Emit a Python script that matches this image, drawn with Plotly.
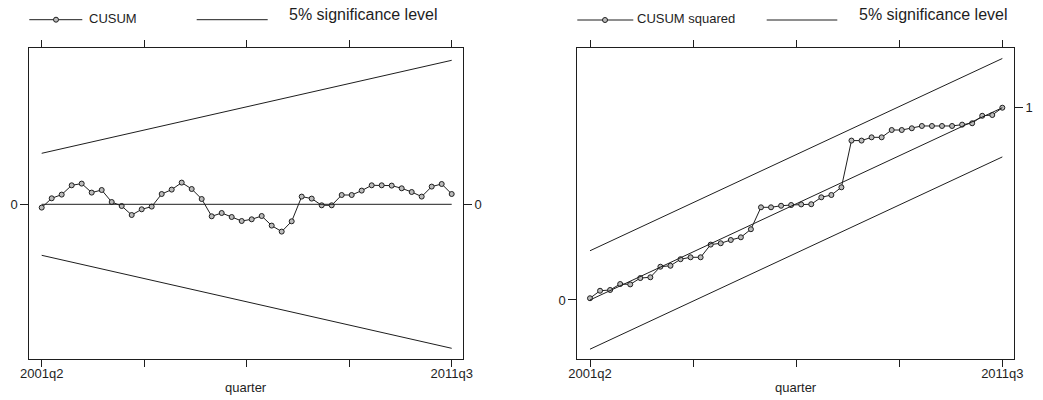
import plotly.graph_objects as go

W, H = 1043, 400

# ---------------- data ----------------
start_year, start_q = 2001, 2
n_obs = 42
quarters = []
y, q = start_year, start_q
for _ in range(n_obs):
    quarters.append(f"{y}q{q}")
    q += 1
    if q > 4:
        q = 1
        y += 1
xidx = list(range(n_obs))

cusum = [-0.33, 0.60, 0.97, 1.90, 2.07, 1.17, 1.43, 0.23, -0.17, -1.07,
         -0.50, -0.23, 1.03, 1.47, 2.17, 1.53, 0.53, -1.20, -0.87, -1.27,
         -1.67, -1.50, -1.17, -2.13, -2.73, -1.70, 0.77, 0.57, -0.10, -0.10,
         0.93, 0.93, 1.37, 1.90, 1.90, 1.87, 1.60, 1.23, 0.77, 1.77,
         2.03, 1.03]
cusum_upper = [5.1, 14.4]
cusum_lower = [-5.1, -14.4]
cusum_zero = [0, 0]

cusumsq = [0.009, 0.048, 0.052, 0.083, 0.081, 0.114, 0.118, 0.173, 0.178, 0.212,
           0.222, 0.222, 0.288, 0.295, 0.312, 0.326, 0.368, 0.482, 0.482, 0.490,
           0.494, 0.497, 0.498, 0.534, 0.546, 0.586, 0.829, 0.829, 0.846, 0.846,
           0.884, 0.884, 0.893, 0.905, 0.905, 0.905, 0.905, 0.912, 0.919, 0.958,
           0.962, 1.000]
sq_mid = [0.0, 1.0]
sq_upper = [0.256, 1.256]
sq_lower = [-0.256, 0.744]

ends = [xidx[0], xidx[-1]]
tickvals_x = [0, 10.25, 20.5, 30.75, 41]
ticktext_x = [quarters[0], "", "", "", quarters[-1]]

INK = "#1e1e1e"
FONT = "Liberation Sans, Arial, sans-serif"

fig = go.Figure()

def line(xs, ys, xa, ya):
    fig.add_trace(go.Scatter(x=xs, y=ys, mode="lines", xaxis=xa, yaxis=ya,
                             line=dict(color=INK, width=1), showlegend=False,
                             hoverinfo="skip"))

# left panel
line(ends, cusum_upper, "x", "y")
line(ends, cusum_lower, "x", "y")
line(ends, cusum_zero, "x", "y2")
fig.add_trace(go.Scatter(x=xidx, y=cusum, mode="lines+markers", xaxis="x", yaxis="y",
                         line=dict(color=INK, width=1),
                         marker=dict(symbol="circle", size=5, color="#bbbbbb",
                                     line=dict(color=INK, width=1)),
                         showlegend=False))
# right panel
line(ends, sq_upper, "x2", "y3")
line(ends, sq_lower, "x2", "y3")
line(ends, sq_mid, "x2", "y4")
fig.add_trace(go.Scatter(x=xidx, y=cusumsq, mode="lines+markers", xaxis="x2", yaxis="y3",
                         line=dict(color=INK, width=1),
                         marker=dict(symbol="circle", size=5, color="#bbbbbb",
                                     line=dict(color=INK, width=1)),
                         showlegend=False))

ydom = [1 - 359 / H, 1 - 48.3 / H]
xdom1 = [29.3 / W, 463 / W]
xdom2 = [577.3 / W, 1014 / W]
tickfont = dict(family=FONT, size=13, color=INK)

def xax(dom, rng, anchor):
    return dict(domain=dom, range=rng, anchor=anchor, tickvals=tickvals_x,
                ticktext=ticktext_x, ticks="outside", ticklen=7, tickwidth=1,
                tickcolor=INK, showline=True, linecolor=INK, linewidth=1,
                mirror="ticks", showgrid=False, zeroline=False, tickfont=tickfont,
                automargin=False, ticklabelstandoff=-5)

def yax(rng, anchor, tv, side="left", overlay=None):
    d = dict(range=rng, anchor=anchor, tickvals=tv, ticktext=[str(v) for v in tv],
             ticks="outside", ticklen=8, tickwidth=1, tickcolor=INK,
             showgrid=False, zeroline=False, tickfont=tickfont, side=side,
             automargin=False)
    if overlay is None:
        d.update(domain=ydom, showline=True, linecolor=INK, linewidth=1, mirror=True)
    else:
        d.update(overlaying=overlay, showline=False)
    return d

rng1 = [-15.47, 15.6]
rng2 = [-0.307, 1.309]
fig.update_layout(
    width=W, height=H, autosize=False,
    margin=dict(l=0, r=0, t=0, b=0, pad=0),
    paper_bgcolor="white", plot_bgcolor="white",
    font=dict(family=FONT, color=INK),
    xaxis=xax(xdom1, [-1.24, 42.13], "y"),
    xaxis2=xax(xdom2, [-1.263, 42.16], "y3"),
    yaxis=yax(rng1, "x", [0]),
    yaxis2=yax(rng1, "x", [0], side="right", overlay="y"),
    yaxis3=yax(rng2, "x2", [0]),
    yaxis4=yax(rng2, "x2", [1], side="right", overlay="y3"),
)

# axis titles
for cx in [(29.3 + 463) / 2, (577.3 + 1014) / 2]:
    fig.add_annotation(x=cx / W, y=1 - 387 / H, xref="paper", yref="paper",
                       text="quarter", showarrow=False,
                       font=dict(family=FONT, size=13, color=INK),
                       xanchor="center", yanchor="middle")

# legends (drawn manually)
def px(xp):
    return xp / W

def py(yp):
    return 1 - yp / H

def leg_line(x0, x1, yy):
    fig.add_shape(type="line", xref="paper", yref="paper", x0=px(x0), x1=px(x1),
                  y0=py(yy), y1=py(yy), line=dict(color=INK, width=1))

def leg_marker(xc, yc, r=2.5):
    fig.add_shape(type="circle", xref="paper", yref="paper",
                  x0=px(xc - r), x1=px(xc + r), y0=py(yc + r), y1=py(yc - r),
                  line=dict(color=INK, width=1), fillcolor="#bbbbbb")

def leg_text(x0, yc, text, size):
    fig.add_annotation(x=px(x0), y=py(yc), xref="paper", yref="paper", text=text,
                       showarrow=False, xanchor="left", yanchor="middle",
                       font=dict(family=FONT, size=size, color=INK))

leg_line(29.3, 82.3, 19.7)
leg_marker(56, 19.7)
leg_text(87, 18.7, "CUSUM", 13)
leg_line(196.7, 267.7, 19.7)
leg_text(286.5, 15, "5% significance level", 16)

leg_line(577.3, 633.3, 20)
leg_marker(605, 20)
leg_text(635, 19, "CUSUM squared", 13)
leg_line(766.7, 837.3, 20)
leg_text(857, 14.7, "5% significance level", 16)

fig.write_html("out.html", config={"displayModeBar": False},
               post_script="document.body.style.margin='0';document.body.style.padding='0';")
